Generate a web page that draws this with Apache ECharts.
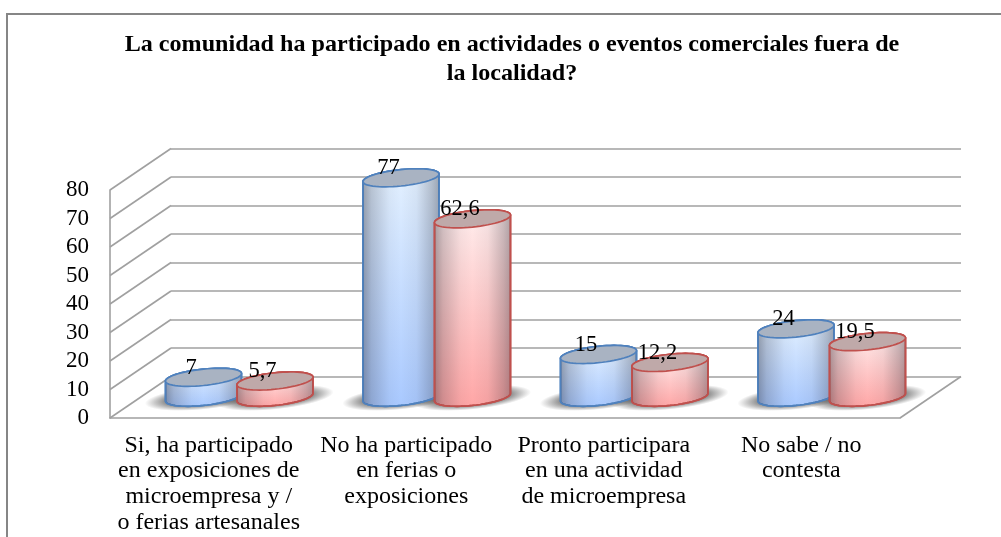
<!DOCTYPE html>
<html>
<head>
<meta charset="utf-8">
<style>html,body{margin:0;padding:0;background:#fff}#c{width:1001px;height:537px}</style>
<script src="https://cdn.jsdelivr.net/npm/echarts@6/dist/echarts.min.js"></script>
</head>
<body>
<div id="c"></div>
<script>
const titleText = 'La comunidad ha participado en actividades o eventos comerciales fuera de\nla localidad?';
const categories = [
  'Si, ha participado\nen exposiciones de\nmicroempresa y /\no ferias artesanales',
  'No ha participado\nen ferias o\nexposiciones',
  'Pronto participara\nen una actividad\nde microempresa',
  'No sabe / no\ncontesta'
];
const blueValues = [7, 77, 15, 24];
const redValues = [5.7, 62.6, 12.2, 19.5];
const yMax = 80, yStep = 10;
const yTicks = [0, 10, 20, 30, 40, 50, 60, 70, 80];

// 3D look: depth of the floor, from front edge to back wall
const DX = 61, DY = -41.5;
const blueStyle = {
  edge: '#4F81BD', cap: '#A9B3C2',
  body: ['#E4F1FF', '#A9C9FF']
};
const redStyle = {
  edge: '#C0504D', cap: '#BFA9A9',
  body: ['#FFEEEE', '#FFA6A6']
};

function ellipsePts(cx, cy, rx, ry, from, to, n) {
  const pts = [];
  for (let i = 0; i <= n; i++) {
    const t = from + (to - from) * i / n;
    pts.push([cx + rx * Math.cos(t), cy + ry * Math.sin(t) - 0.1 * rx * Math.cos(t)]);
  }
  return pts;
}
function geom(api, side) {
  const cat = api.value(0), val = api.value(1);
  const band = api.size([1, 0])[0];
  const base = api.coord([cat, 0]);
  const top = api.coord([cat, val]);
  const cx = base[0] + DX / 2 + side * band * 0.181;
  return {cx, baseY: base[1] + DY / 2, topY: top[1] + DY / 2, rx: band * 0.1924, ry: 8.2};
}
function cylinder(side, st) {
  return function (params, api) {
    const g = geom(api, side);
    const bodyPts = ellipsePts(g.cx, g.baseY, g.rx, g.ry, 0, Math.PI, 30)
      .concat(ellipsePts(g.cx, g.topY, g.rx, g.ry, Math.PI, 2 * Math.PI, 30));
    const capPts = ellipsePts(g.cx, g.topY, g.rx, g.ry, 0, 2 * Math.PI, 60);
    return {
      type: 'group',
      children: [
        {type: 'polygon', shape: {points: bodyPts}, style: {
          fill: {type: 'linear', x: 0, y: 0, x2: 0, y2: 1, colorStops: [
            {offset: 0, color: st.body[0]}, {offset: 1, color: st.body[1]}]},
          stroke: st.edge, lineWidth: 1.7}},
        {type: 'polygon', shape: {points: bodyPts}, silent: true, style: {
          fill: {type: 'linear', x: 0, y: 0, x2: 1, y2: 0, colorStops: [
            {offset: 0, color: 'rgba(40,40,50,0.42)'},
            {offset: 0.12, color: 'rgba(40,40,50,0.22)'},
            {offset: 0.35, color: 'rgba(40,40,50,0.04)'},
            {offset: 0.5, color: 'rgba(40,40,50,0)'},
            {offset: 0.7, color: 'rgba(40,40,50,0.05)'},
            {offset: 0.9, color: 'rgba(40,40,50,0.25)'},
            {offset: 1, color: 'rgba(40,40,50,0.38)'}]},
          stroke: st.edge, lineWidth: 1.7}},
        {type: 'polygon', shape: {points: capPts}, style: {
          fill: st.cap, stroke: st.edge, lineWidth: 1.7}}
      ]
    };
  };
}
function floorShadow(side) {
  return function (params, api) {
    const g = geom(api, side);
    return {type: 'circle',
      x: g.cx, y: g.baseY + 0.5, scaleY: 0.2, rotation: 0.1,
      shape: {cx: 0, cy: 0, r: g.rx * 1.55},
      style: {fill: {type: 'radial', x: 0.5, y: 0.5, r: 0.5, colorStops: [
        {offset: 0, color: 'rgba(80,80,80,0.9)'},
        {offset: 0.6, color: 'rgba(80,80,80,0.75)'},
        {offset: 0.82, color: 'rgba(90,90,90,0.35)'},
        {offset: 1, color: 'rgba(100,100,100,0)'}]}}};
  };
}
function labelItem(side) {
  return function (params, api) {
    const g = geom(api, side);
    return {type: 'text', x: g.cx - 12.5, y: g.topY - 9.5, style: {
      text: String(api.value(1)).replace('.', ','),
      fill: '#000', font: '22.5px "Liberation Serif"', align: 'center', verticalAlign: 'middle'}};
  };
}
const pairs = arr => arr.map((v, i) => [i, v]);
const customs = (render, data, z) => ({
  type: 'custom', xAxisIndex: 0, yAxisIndex: 0, renderItem: render, data: pairs(data), z,
  clip: false, silent: true, encode: {x: 0, y: 1}
});

const option = {
  animation: false,
  backgroundColor: '#fff',
  title: {
    text: titleText, left: 507, top: 25, textAlign: 'center',
    textStyle: {fontFamily: 'Liberation Serif', fontWeight: 'bold', fontSize: 24.1, color: '#000', lineHeight: 29}
  },
  graphic: [{type: 'rect', z: -1, silent: true,
    shape: {x: 7, y: 14, width: 1040, height: 560},
    style: {fill: 'none', stroke: '#868686', lineWidth: 2}}],
  grid: [
    {left: 110, top: 190, width: 790, height: 228},
    {left: 110 + DX, top: 190 + DY, width: 790, height: 228}
  ],
  xAxis: [
    {type: 'category', gridIndex: 0, data: categories,
     axisLine: {show: true, lineStyle: {color: '#A0A0A0', width: 1.6}}, axisTick: {show: false},
     axisLabel: {interval: 0, color: '#000', fontFamily: 'Liberation Serif', fontSize: 24, lineHeight: 25.7, margin: 14.5, verticalAlign: 'top'}},
    {type: 'category', gridIndex: 1, data: categories,
     axisLine: {show: false}, axisTick: {show: false}, axisLabel: {show: false}}
  ],
  yAxis: [
    {type: 'value', gridIndex: 0, min: 0, max: yMax, interval: yStep,
     axisLine: {show: true, lineStyle: {color: '#A0A0A0', width: 1.6}}, axisTick: {show: false},
     splitLine: {show: false},
     axisLabel: {color: '#000', fontFamily: 'Liberation Serif', fontSize: 23, margin: 21}},
    {type: 'value', gridIndex: 1, min: 0, max: yMax, interval: yStep,
     axisLine: {show: false}, axisTick: {show: false}, axisLabel: {show: false},
     splitLine: {show: true, lineStyle: {color: '#A0A0A0', width: 1.6}}}
  ],
  series: [
    { // wall/floor diagonals
      type: 'custom', xAxisIndex: 0, yAxisIndex: 0, z: 1, silent: true, clip: false,
      data: yTicks.map(v => [0, v]),
      encode: {x: 0, y: 1},
      renderItem(params, api) {
        const left = api.coord([0, api.value(1)]);
        const x0 = left[0] - api.size([1, 0])[0] / 2;
        const line = {stroke: '#A0A0A0', lineWidth: 1.6};
        const kids = [{type: 'line', shape: {x1: x0, y1: left[1], x2: x0 + DX, y2: left[1] + DY}, style: line}];
        if (api.value(1) === 0) {
          const x3 = x0 + api.size([1, 0])[0] * categories.length;
          kids.push({type: 'line', shape: {x1: x3, y1: left[1], x2: x3 + DX, y2: left[1] + DY}, style: line});
        }
        return {type: 'group', children: kids};
      }
    },
    customs(floorShadow(-1), blueValues, 2),
    customs(floorShadow(1), redValues, 2),
    customs(cylinder(-1, blueStyle), blueValues, 3),
    customs(cylinder(1, redStyle), redValues, 4),
    customs(labelItem(-1), blueValues, 5),
    customs(labelItem(1), redValues, 5)
  ]
};
echarts.init(document.getElementById('c'), null, {renderer: 'canvas'}).setOption(option);
</script>
</body>
</html>
